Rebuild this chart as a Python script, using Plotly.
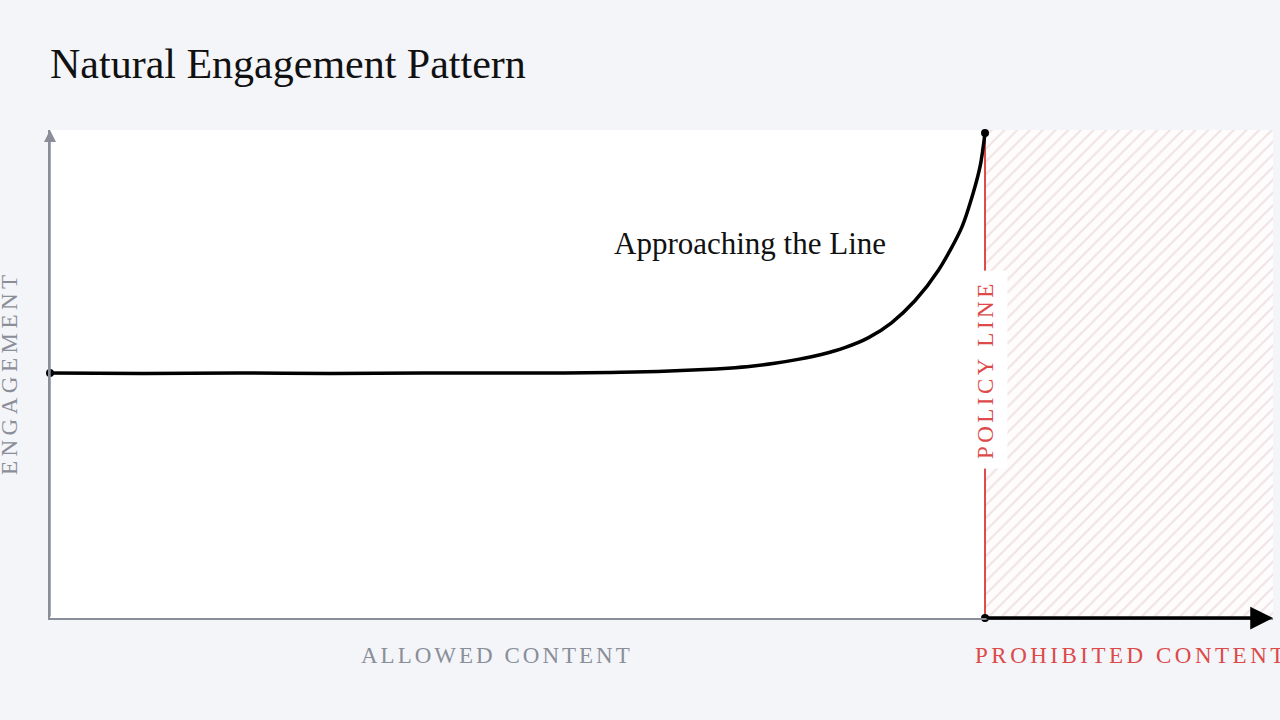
import plotly.graph_objects as go

# ---- data ----
engagement_x = [0.0, 0.1, 0.2, 0.3, 0.4, 0.5, 0.55, 0.6, 0.625, 0.65, 0.675, 0.7, 0.725, 0.75, 0.775, 0.8,
                0.825, 0.85, 0.875, 0.9, 0.925, 0.95, 0.975, 0.9875, 0.995, 1.0]
engagement_y = [0.502, 0.501, 0.502, 0.501, 0.502, 0.502, 0.502, 0.503, 0.504, 0.505, 0.507, 0.509, 0.512, 0.516, 0.522, 0.530,
                0.540, 0.554, 0.574, 0.605, 0.650, 0.712, 0.800, 0.872, 0.928, 0.994]
policy_x = 1.0
x_max = 1.308
title_text = "Natural Engagement Pattern"
curve_label = "Approaching the Line"
policy_label = "POLICY LINE"
allowed_label = "ALLOWED CONTENT"
prohibited_label = "PROHIBITED CONTENT"
y_label = "ENGAGEMENT"

SERIF = "Liberation Serif, DejaVu Serif, serif"
RED = "#dc4a4a"
GRAY = "#8a8e98"
BG = "#f4f5f9"


def spaced(text, px):
    return '<span style="letter-spacing:%spx">%s</span>' % (px, text)


fig = go.Figure()

# hatched prohibited zone
fig.add_trace(go.Scatter(
    x=[policy_x, x_max, x_max, policy_x, policy_x],
    y=[0, 0, 1, 1, 0],
    fill="toself", mode="lines", line=dict(width=0),
    fillcolor="rgba(255,255,255,0)",
    fillpattern=dict(shape="/", fgcolor="#e4caca", bgcolor="#fefcfc",
                     size=9, solidity=0.22),
    hoverinfo="skip", showlegend=False))

# policy line
fig.add_trace(go.Scatter(
    x=[policy_x, policy_x], y=[0, 1], mode="lines",
    line=dict(color=RED, width=2), hoverinfo="skip", showlegend=False))

# engagement curve
fig.add_trace(go.Scatter(
    x=engagement_x, y=engagement_y, mode="lines",
    line=dict(color="black", width=3.5, shape="spline", smoothing=0.8),
    cliponaxis=False, hoverinfo="skip", showlegend=False))

# end dots of the curve and start dot of bottom arrow
fig.add_trace(go.Scatter(
    x=[engagement_x[0], engagement_x[-1], policy_x], y=[engagement_y[0], engagement_y[-1], 0],
    mode="markers", marker=dict(size=8, color="black"),
    cliponaxis=False, hoverinfo="skip", showlegend=False))

annotations = [
    # bottom black arrow into prohibited zone
    dict(x=x_max, y=0, ax=policy_x, ay=0, xref="x", yref="y", axref="x", ayref="y",
         showarrow=True, arrowhead=2, arrowsize=1.3, arrowwidth=3.5, arrowcolor="black", text=""),
    # y axis arrow
    dict(x=0, y=1.0, ax=0, ay=0, xref="x", yref="y", axref="x", ayref="y",
         showarrow=True, arrowhead=2, arrowsize=1.6, arrowwidth=1.5, arrowcolor=GRAY, text=""),
    dict(x=0.749, y=0.768, xref="x", yref="y", text=curve_label, showarrow=False,
         xanchor="center", yanchor="middle",
         font=dict(family=SERIF, size=31, color="#111111")),
    dict(x=policy_x, y=0.508, xref="x", yref="y", text=spaced(policy_label, 3.5), showarrow=False,
         xanchor="center", yanchor="middle",
         textangle=-90, bgcolor="white", borderpad=9,
         font=dict(family=SERIF, size=23, color=RED)),
    dict(x=0.478, y=-0.076, xref="x", yref="paper", text=spaced(allowed_label, 3), showarrow=False,
         xanchor="center", yanchor="middle",
         font=dict(family=SERIF, size=23, color=GRAY)),
    dict(x=0.987, y=-0.076, xref="x", yref="paper", text=spaced(prohibited_label, 3.5), showarrow=False,
         xanchor="left", yanchor="middle", font=dict(family=SERIF, size=23, color=RED)),
    dict(x=-0.0335, y=0.502, xref="paper", yref="paper", text=spaced(y_label, 4.5), showarrow=False,
         xanchor="center", yanchor="middle",
         textangle=-90, font=dict(family=SERIF, size=23, color=GRAY)),
]

fig.update_layout(
    width=1280, height=720,
    paper_bgcolor=BG, plot_bgcolor="white",
    margin=dict(l=50, r=7, t=130, b=102),
    title=dict(text=title_text, x=50 / 1280, xanchor="left", xref="container",
               y=1 - 63 / 720, yanchor="middle", yref="container",
               font=dict(family=SERIF, size=42, color="#111111")),
    xaxis=dict(range=[0, x_max], showgrid=False, zeroline=False, showticklabels=False,
               ticks="", showline=True, linecolor=GRAY, linewidth=1.5, fixedrange=True),
    yaxis=dict(range=[0, 1], showgrid=False, zeroline=False, showticklabels=False,
               ticks="", showline=True, linecolor=GRAY, linewidth=1.5, fixedrange=True),
    annotations=annotations,
    showlegend=False,
)

fig.write_html("out.html", config={"displayModeBar": False},
               post_script="document.body.style.margin='0';document.body.style.background='%s';" % BG)
